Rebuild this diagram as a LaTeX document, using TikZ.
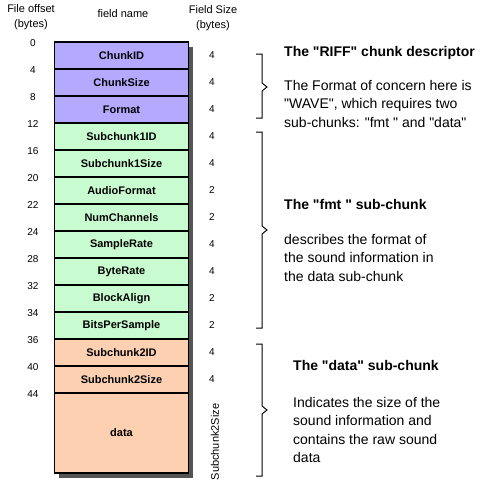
\documentclass[tikz,border=0pt]{standalone}
\usepackage{fontspec}
\setmainfont{Liberation Sans}[Ligatures=TeXOff]

\definecolor{riffcol}{HTML}{B4A8FF}
\definecolor{fmtcol}{HTML}{C8FCD0}
\definecolor{datacol}{HTML}{FCD0B0}

\tikzset{
  field/.style={draw=black, line width=1.2pt, minimum width=134pt,
    minimum height=27pt, inner sep=0pt,
    font=\fontsize{11}{13}\selectfont\bfseries},
  offsetlbl/.style={font=\fontsize{10}{12}\selectfont, inner sep=0pt},
  sizelbl/.style={font=\fontsize{10}{12}\selectfont, inner sep=0pt},
  headlbl/.style={font=\fontsize{11}{15}\selectfont, align=center, inner sep=0pt},
  titlelbl/.style={font=\fontsize{14}{18}\selectfont\bfseries,
    anchor=base west, inner sep=0pt},
  desclbl/.style={font=\fontsize{14}{18.5}\selectfont, anchor=north west,
    align=left, inner sep=0pt},
  bracestyle/.style={line width=1pt}
}

\newcommand{\chunkbrace}[3]{%
  \draw[bracestyle] (256,#1) -- (262,#1) -- (262,#2-4) -- (267,#2)
    -- (262,#2+4) -- (262,#3) -- (256,#3);}

\begin{document}
\begin{tikzpicture}[x=1pt,y=-1pt]
\useasboundingbox[fill=white] (0,0) rectangle (491,491);

% column heads
\node[headlbl] (offsethead) at (31,17) {File offset\\(bytes)};
\node[headlbl] (namehead)   at (123,14) {field name};
\node[headlbl] (sizehead)   at (213,18) {Field Size\\(bytes)};

% shadow behind the table
\fill[black!67] (59,47) rectangle (193,478);

\foreach \name/\lbl/\col/\off/\sz [count=\i from 0] in {
    chunkid/ChunkID/riffcol/0/4,
    chunksize/ChunkSize/riffcol/4/4,
    format/Format/riffcol/8/4,
    subaid/Subchunk1ID/fmtcol/12/4,
    subasize/Subchunk1Size/fmtcol/16/4,
    audiofmt/AudioFormat/fmtcol/20/2,
    numchan/NumChannels/fmtcol/22/2,
    samplerate/SampleRate/fmtcol/24/4,
    byterate/ByteRate/fmtcol/28/4,
    blockalign/BlockAlign/fmtcol/32/2,
    bitsps/BitsPerSample/fmtcol/34/2,
    subbid/Subchunk2ID/datacol/36/4,
    subbsize/Subchunk2Size/datacol/40/4}
{
  \node[field, fill=\col] (\name) at (121.5, 55.5+27*\i) {\lbl};
  \node[offsetlbl] (off\name) at (33, 43+27*\i) {\off};
  \node[sizelbl] (size\name) at (212, 55.5+27*\i) {\sz};
}
\node[field, fill=datacol, minimum height=80pt] (data) at (121.5,433) {data};
\node[offsetlbl] (offdata) at (33,394) {44};
\node[sizelbl, font=\fontsize{11}{13}\selectfont, rotate=90] (sizedata)
  at (215,442) {Subchunk2Size};

% braces
\chunkbrace{54}{87}{118}
\chunkbrace{132}{230}{328}
\chunkbrace{344}{410}{476}

% descriptions
\node[titlelbl] (rifftitle) at (284,56.5) {The "RIFF" chunk descriptor};
\node[desclbl] (riffdesc) at (284,80) {The Format of concern here is\\
  "WAVE", which requires two\\sub-chunks: "fmt " and "data"};
\node[titlelbl] (fmttitle) at (284,209) {The "fmt " sub-chunk};
\node[desclbl] (fmtdesc) at (284,234) {describes the format of\\
  the sound information in\\the data sub-chunk};
\node[titlelbl] (datatitle) at (293,370.5) {The "data" sub-chunk};
\node[desclbl] (datadesc) at (293,397) {Indicates the size of the\\
  sound information and\\contains the raw sound\\data};
\end{tikzpicture}
\end{document}
